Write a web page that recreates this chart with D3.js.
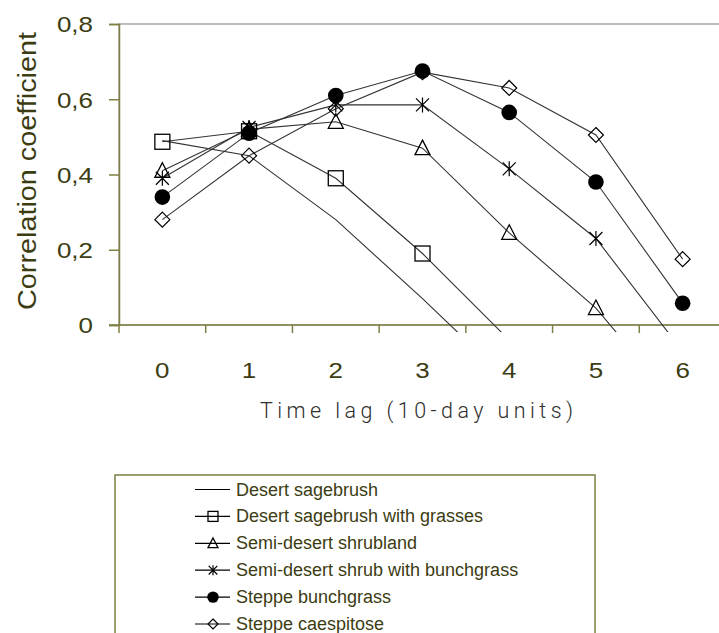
<!DOCTYPE html>
<html>
<head>
<meta charset="utf-8">
<script src="https://cdn.jsdelivr.net/npm/d3@7"></script>
<style>
  html, body { margin: 0; padding: 0; background: #fff; overflow: hidden; }
  svg { display: block; }
</style>
</head>
<body>
<svg id="chart" width="719" height="633"></svg>
<script>
// Time lags (10-day units)
const lags = [0, 1, 2, 3, 4, 5, 6];
const yTicks = [0, 0.2, 0.4, 0.6, 0.8];

// Correlation coefficients per vegetation type (lines run past the axis and are clipped)
const desertSagebrush     = [0.49, 0.45, 0.28, 0.07, -0.15];
const desertSageGrasses   = [0.487, 0.515, 0.39, 0.19, -0.04];
const semiDesertShrubland = [0.41, 0.52, 0.54, 0.47, 0.245, 0.045, -0.23];
const semiDesertBunch     = [0.39, 0.525, 0.585, 0.585, 0.415, 0.23, -0.07];
const steppeBunchgrass    = [0.34, 0.51, 0.61, 0.675, 0.565, 0.38, 0.058];
const steppeCaespitose    = [0.28, 0.45, 0.575, 0.672, 0.63, 0.505, 0.175];

const seriesNames = [
  "Desert sagebrush",
  "Desert sagebrush with grasses",
  "Semi-desert shrubland",
  "Semi-desert shrub with bunchgrass",
  "Steppe bunchgrass",
  "Steppe caespitose"
];
const seriesValues = [desertSagebrush, desertSageGrasses, semiDesertShrubland,
                      semiDesertBunch, steppeBunchgrass, steppeCaespitose];
const seriesMarkers = ["none", "square", "triangle", "asterisk", "circle", "diamond"];

const series = seriesNames.map((name, i) => ({
  name, values: seriesValues[i], marker: seriesMarkers[i]
}));

const axisColor = "#7f7f45";
const textColor = "#3c3c12";
const lineColor = "#333333";

const svg = d3.select("#chart");

const plot = { left: 119, top: 24, right: 726, bottom: 325 };

const x = d3.scaleBand().domain(lags).range([plot.left, plot.right]).padding(0);
const y = d3.scaleLinear().domain([0, 0.8]).range([plot.bottom, plot.top]);
const cx = d => x(d) + x.bandwidth() / 2;

// plot frame (grey), axes drawn over it
svg.append("rect")
  .attr("x", plot.left).attr("y", plot.top)
  .attr("width", plot.right - plot.left + 40).attr("height", plot.bottom - plot.top)
  .attr("fill", "none").attr("stroke", "#a8a8a8").attr("stroke-width", 1.5);

// clip for lines that continue below zero
svg.append("defs").append("clipPath").attr("id", "plotClip")
  .append("rect").attr("x", plot.left).attr("y", 0)
  .attr("width", 719 - plot.left).attr("height", plot.bottom + 7);

// Y axis
const yAxis = svg.append("g")
  .attr("transform", `translate(${plot.left},0)`)
  .call(d3.axisLeft(y).tickValues(yTicks).tickSize(10).tickPadding(16)
        .tickFormat(d => d === 0 ? "0" : d3.format(".1f")(d).replace(".", ",")));
yAxis.select(".domain").attr("stroke", axisColor).attr("stroke-width", 1.5);
yAxis.selectAll(".tick line").attr("stroke", axisColor).attr("stroke-width", 1.5);
yAxis.selectAll(".tick text")
  .attr("fill", textColor).attr("font-family", "Liberation Sans, Arial, sans-serif")
  .attr("font-size", 22).attr("dy", "0.36em");

// X axis: ticks at band boundaries, labels centred in each band
const xAxisG = svg.append("g").attr("transform", `translate(0,${plot.bottom})`);
xAxisG.append("line")
  .attr("x1", plot.left - 10).attr("x2", 719)
  .attr("stroke", axisColor).attr("stroke-width", 1.5);
const bounds = lags.map(d => x(d)).concat([plot.right]);
xAxisG.selectAll("line.tk").data(bounds).join("line").attr("class", "tk")
  .attr("x1", d => d).attr("x2", d => d).attr("y1", 0).attr("y2", 8)
  .attr("stroke", axisColor).attr("stroke-width", 1.5);
xAxisG.selectAll("text.lbl").data(lags).join("text").attr("class", "lbl")
  .attr("x", d => cx(d)).attr("y", 53)
  .attr("text-anchor", "middle")
  .attr("fill", textColor).attr("font-family", "Liberation Sans, Arial, sans-serif")
  .attr("font-size", 22)
  .text(d => d);

// wide lettering for tick labels
svg.selectAll(".tick text, text.lbl").each(function () {
  const w = this.getComputedTextLength();
  d3.select(this).attr("textLength", w * 1.18).attr("lengthAdjust", "spacingAndGlyphs");
});

// Axis titles
svg.append("text")
  .attr("transform", `translate(36,171) rotate(-90)`)
  .attr("text-anchor", "middle")
  .attr("fill", textColor).attr("font-family", "Liberation Sans, Arial, sans-serif")
  .attr("font-size", 26)
  .attr("textLength", 278).attr("lengthAdjust", "spacingAndGlyphs")
  .text("Correlation coefficient");

svg.append("text")
  .attr("x", 260).attr("y", 418)
  .attr("fill", "#2e2e2e").attr("font-family", "Roboto, sans-serif")
  .attr("font-weight", 300).attr("font-size", 21.5)
  .attr("textLength", 313).attr("lengthAdjust", "spacing")
  .text("Time lag (10-day units)");

// Marker drawing
function drawMarker(g, type, s) {
  const k = s / 15;
  if (type === "square") {
    g.append("rect").attr("x", -7.5 * k).attr("y", -7.5 * k)
      .attr("width", 15 * k).attr("height", 15 * k)
      .attr("fill", "none").attr("stroke", "#000").attr("stroke-width", 1.3);
  } else if (type === "triangle") {
    g.append("path")
      .attr("d", `M0,${-8 * k}L${7.5 * k},${6.5 * k}L${-7.5 * k},${6.5 * k}Z`)
      .attr("fill", "none").attr("stroke", "#000").attr("stroke-width", 1.3);
  } else if (type === "asterisk") {
    const a = 7.5 * k, b = 6.5 * k;
    g.append("path")
      .attr("d", `M0,${-a}V${a}M${-b},${-b}L${b},${b}M${b},${-b}L${-b},${b}`)
      .attr("fill", "none").attr("stroke", "#000").attr("stroke-width", 1.2);
  } else if (type === "circle") {
    g.append("circle").attr("r", 7.8 * k).attr("fill", "#000");
  } else if (type === "diamond") {
    const a = 7.5 * k;
    g.append("path")
      .attr("d", `M0,${-a}L${a},0L0,${a}L${-a},0Z`)
      .attr("fill", "none").attr("stroke", "#000").attr("stroke-width", 1.2);
  }
}

const line = d3.line().x((d, i) => cx(lags[i])).y(d => y(d));

const linesG = svg.append("g").attr("clip-path", "url(#plotClip)");
series.forEach(s => {
  linesG.append("path").datum(s.values)
    .attr("d", line).attr("fill", "none")
    .attr("stroke", lineColor).attr("stroke-width", 1.1);
});

// markers: hollow symbols first, filled circles on top
const markerOrder = ["square", "triangle", "asterisk", "diamond", "circle"];
const markersG = svg.append("g");
markerOrder.forEach(m => {
  const s = series.find(d => d.marker === m);
  s.values.forEach((v, i) => {
    if (v < 0) return;
    const g = markersG.append("g").attr("transform", `translate(${cx(lags[i])},${y(v)})`);
    drawMarker(g, m, 15);
  });
});

// Legend
const legend = svg.append("g");
legend.append("rect")
  .attr("x", 115).attr("y", 475).attr("width", 480).attr("height", 200)
  .attr("fill", "none").attr("stroke", axisColor).attr("stroke-width", 1.5);
series.forEach((s, i) => {
  const cy = 489.5 + i * 26.9;
  const g = legend.append("g");
  g.append("line").attr("x1", 195).attr("x2", 230).attr("y1", cy).attr("y2", cy)
    .attr("stroke", "#000").attr("stroke-width", 1.2);
  const mg = g.append("g").attr("transform", `translate(213,${cy})`);
  if (s.marker === "circle") drawMarker(mg, s.marker, 11);
  else drawMarker(mg, s.marker, 10);
  g.append("text").attr("x", 236).attr("y", cy + 6)
    .attr("fill", textColor).attr("font-family", "Liberation Sans, Arial, sans-serif")
    .attr("font-size", 18).text(s.name);
});
</script>
</body>
</html>
